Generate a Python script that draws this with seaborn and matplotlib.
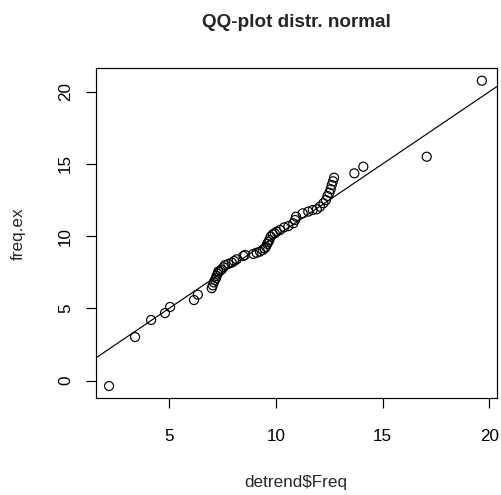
import matplotlib
matplotlib.use("Agg")
import matplotlib.pyplot as plt
import seaborn as sns
import pandas as pd

# sorted sample quantiles (x: detrend$Freq, y: freq.ex)
detrend_freq = [2.19, 3.41, 4.16, 4.81, 5.05, 6.17, 6.35, 7.00, 7.05, 7.10,
                7.15, 7.20, 7.23, 7.28, 7.31, 7.40, 7.47, 7.55, 7.62, 7.78,
                7.94, 8.05, 8.17, 8.48, 8.56, 8.95, 9.10, 9.26, 9.39, 9.48,
                9.54, 9.60, 9.65, 9.70, 9.76, 9.86, 9.95, 10.04, 10.20, 10.39,
                10.59, 10.82, 10.90, 10.95, 11.26, 11.52, 11.73, 11.92, 12.07, 12.23,
                12.35, 12.42, 12.51, 12.57, 12.62, 12.68, 12.73, 13.68, 14.10, 17.07,
                19.65]
freq_ex = [-0.37, 3.02, 4.20, 4.68, 5.10, 5.58, 5.95, 6.40, 6.60, 6.80,
           6.97, 7.10, 7.25, 7.40, 7.55, 7.62, 7.70, 7.85, 8.00, 8.08,
           8.17, 8.28, 8.40, 8.63, 8.70, 8.77, 8.85, 8.93, 9.04, 9.15,
           9.27, 9.46, 9.60, 9.74, 9.97, 10.13, 10.20, 10.31, 10.43, 10.61,
           10.70, 10.89, 11.12, 11.35, 11.58, 11.70, 11.81, 11.86, 12.04, 12.28,
           12.50, 12.78, 13.00, 13.25, 13.54, 13.80, 14.05, 14.35, 14.81, 15.50,
           20.76]
line_intercept = 0.0
line_slope = 1.0
x_ticks = [5, 10, 15, 20]
y_ticks = [0, 5, 10, 15, 20]

df = pd.DataFrame({"detrend$Freq": detrend_freq, "freq.ex": freq_ex})

sns.set_style("white")
plt.rcParams["font.family"] = ["Liberation Sans", "DejaVu Sans"]

W, H = 502, 495
L, R, T, B = 96, 497, 68, 398
fig = plt.figure(figsize=(W / 100, H / 100), dpi=100)
ax = fig.add_axes([L / W, 1 - B / H, (R - L) / W, (B - T) / H])

sns.scatterplot(data=df, x="detrend$Freq", y="freq.ex", ax=ax,
                marker="o", s=42, facecolor="none", edgecolor="black",
                linewidth=0.85)
ax.axline((0, line_intercept), slope=line_slope, color="black", lw=0.85)

ax.set_xlim(1.58, 20.36)
ax.set_ylim(-1.2, 21.64)
ax.set_xticks(x_ticks)
ax.set_yticks(y_ticks)
fs = 12.3
ax.set_xticklabels([str(t) for t in x_ticks], fontsize=fs)
ax.set_yticklabels([str(t) for t in y_ticks], fontsize=fs, rotation=90, va="center")
ax.tick_params(axis="x", direction="out", length=7.5, width=0.85, pad=15, colors="black", bottom=True)
ax.tick_params(axis="y", direction="out", length=7.5, width=0.85, pad=9, colors="black", left=True)
for sp in ax.spines.values():
    sp.set_visible(True)
    sp.set_color("black")
    sp.set_linewidth(0.85)

ax.set_xlabel("detrend$Freq", fontsize=fs)
ax.set_ylabel("freq.ex", fontsize=fs)
ax.xaxis.label.set_va("center")
ax.yaxis.label.set_va("center")
ax.xaxis.set_label_coords((296 - L) / (R - L), -(483 - B) / (B - T))
ax.yaxis.set_label_coords(-(L - 18) / (R - L), (B - 234) / (B - T))
fig.text(296 / W, 1 - 27 / H, "QQ-plot distr. normal", ha="center", va="baseline",
         fontsize=13.6, fontweight="bold")

fig.savefig("out.png", dpi=100)
